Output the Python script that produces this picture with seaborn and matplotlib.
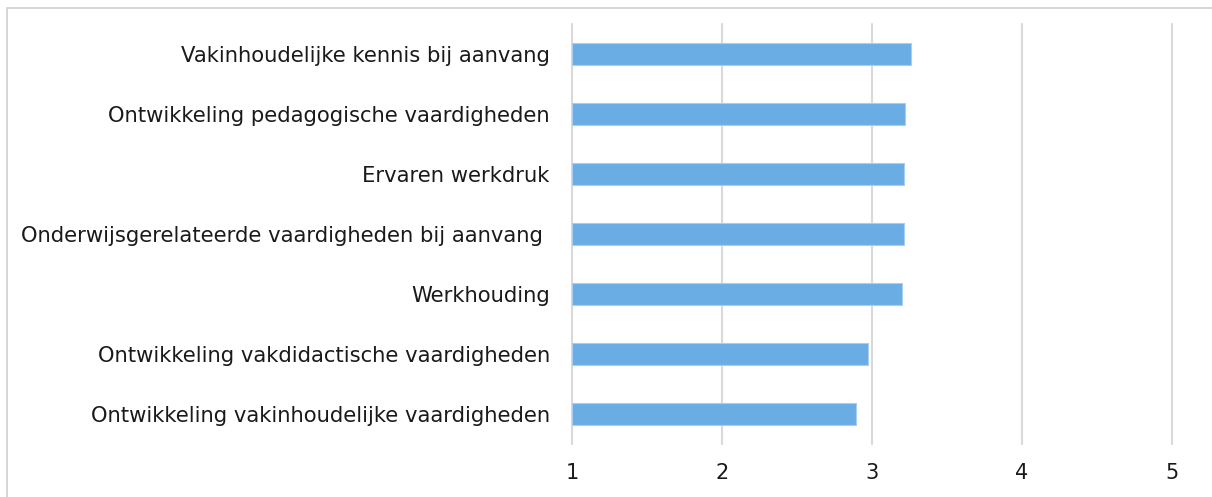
import matplotlib
matplotlib.use("Agg")
import matplotlib.pyplot as plt
import seaborn as sns
import pandas as pd
from matplotlib.patches import Rectangle

categories = [
    "Vakinhoudelijke kennis bij aanvang",
    "Ontwikkeling pedagogische vaardigheden",
    "Ervaren werkdruk",
    "Onderwijsgerelateerde vaardigheden bij aanvang ",
    "Werkhouding",
    "Ontwikkeling vakdidactische vaardigheden",
    "Ontwikkeling vakinhoudelijke vaardigheden",
]
values = [3.26, 3.22, 3.21, 3.21, 3.20, 2.97, 2.89]
xticks = [1, 2, 3, 4, 5]

sns.set_theme(style="white")
plt.rcParams['font.family'] = ['DejaVu Sans']

W, H = 1212, 497
fig = plt.figure(figsize=(W / 100, H / 100), dpi=100)
ax = fig.add_axes([572 / W, 1 - 444 / H, 600 / W, 420 / H])

df = pd.DataFrame({"cat": categories, "val": values})
sns.barplot(data=df, y="cat", x="val", color="#6aade4", saturation=1,
            width=0.36, ax=ax, orient="h", edgecolor="#a9cdee", linewidth=0.8)
for p in ax.patches:
    w = p.get_width()
    p.set_x(1)
    p.set_width(w - 1)

ax.set_xlim(1, 5)
ax.set_ylim(6.5, -0.5)
ax.set_xticks(xticks)
ax.set_xticklabels([str(t) for t in xticks], fontsize=15, color="#1a1a1a")
ax.set_xlabel("")
ax.set_ylabel("")
ax.tick_params(axis="x", length=0, pad=14)
ax.tick_params(axis="y", length=0, pad=16, labelsize=15.2, labelcolor="#1a1a1a")
for s in ax.spines.values():
    s.set_visible(False)
ax.xaxis.grid(True, color="#d9d9d9", linewidth=1.5)
for gl in ax.get_xgridlines():
    gl.set_clip_on(False)
ax.set_axisbelow(True)
ax.set_facecolor("none")

fig.patches.append(Rectangle((7 / W, -0.1), 1.2, 1 - 8 / H + 0.1, transform=fig.transFigure,
                             fill=False, edgecolor="#d0d0cc", linewidth=1.2, zorder=-1))

fig.savefig("out.png", dpi=100)
